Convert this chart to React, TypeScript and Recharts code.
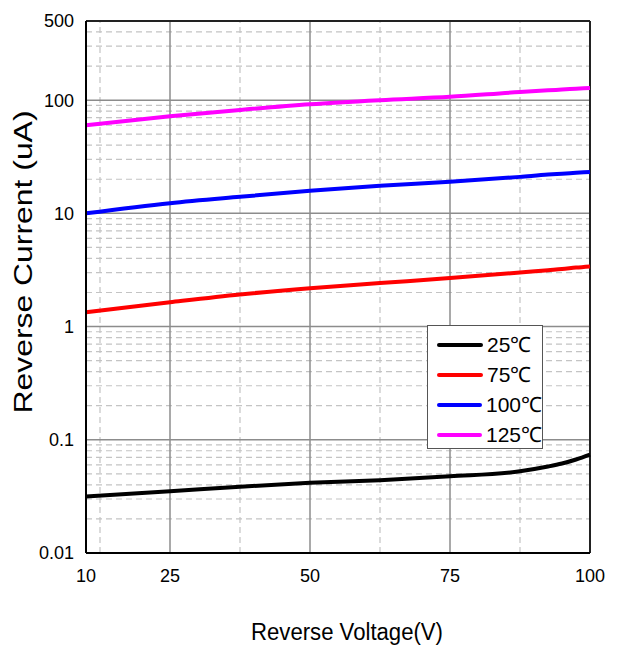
import { Legend, Line, LineChart, ReferenceLine, XAxis, YAxis } from "recharts";

const font = "'Liberation Sans', Arial, sans-serif";

// Reverse voltage (V) sample points
const voltage = [10, 25, 37.5, 50, 62.5, 75, 87.5, 92.5, 95, 97.5, 100];

// Reverse current (uA) per temperature
const current25 = [0.0316, 0.0351, 0.0385, 0.0417, 0.044, 0.0476, 0.0527, 0.058, 0.0617, 0.067, 0.0741];
const current75 = [1.34, 1.64, 1.92, 2.18, 2.42, 2.68, 3.0, 3.15, 3.22, 3.32, 3.4];
const current100 = [10, 12.3, 14.0, 15.8, 17.5, 19, 21, 22, 22.4, 22.8, 23.2];
const current125 = [60, 72, 82, 92, 100, 107, 118, 122, 124, 126, 128];

const xTicks = [10, 25, 50, 75, 100];
const yTicks = [0.01, 0.1, 1, 10, 100, 500];
const xMajorGrid = [25, 50, 75];
const xMinorGrid = [12.5, 37.5, 62.5, 87.5];
const yMajorGrid = [0.1, 1, 10, 100];
const yMinorGrid = [0.01, 0.1, 1, 10]
  .flatMap((d) => [2, 3, 4, 5, 6, 7, 8, 9].map((m) => +(d * m).toPrecision(3)))
  .concat([200, 300, 400]);

const series = [
  { key: "t25", label: "25℃", color: "#000000", values: current25 },
  { key: "t75", label: "75℃", color: "#ff0000", values: current75 },
  { key: "t100", label: "100℃", color: "#0000ff", values: current100 },
  { key: "t125", label: "125℃", color: "#ff00ff", values: current125 },
];

const data = voltage.map((v, i) => {
  const row: Record<string, number> = { v };
  series.forEach((s) => {
    row[s.key] = s.values[i];
  });
  return row;
});

function LegendBox() {
  return (
    <div
      style={{
        width: 116,
        height: 124,
        boxSizing: "border-box",
        border: "1px solid #555",
        background: "#fff",
        paddingTop: 4,
        fontFamily: font,
      }}
    >
      {series.map((s) => (
        <div key={s.key} style={{ display: "flex", alignItems: "center", height: 30 }}>
          <span
            style={{
              display: "inline-block",
              width: 46,
              height: 4,
              marginLeft: 9,
              background: s.color,
              borderRadius: 2,
            }}
          />
          <span style={{ marginLeft: 4, fontSize: 21, color: "#000", lineHeight: "30px" }}>
            {s.label}
          </span>
        </div>
      ))}
    </div>
  );
}

export default function App() {
  return (
    <div style={{ position: "absolute", left: 0, top: 0, background: "#fff" }}>
      <LineChart
        width={624}
        height={648}
        data={data}
        margin={{ top: 21, right: 34, bottom: 65, left: 0 }}
      >
        <XAxis
          dataKey="v"
          type="number"
          domain={[10, 100]}
          ticks={xTicks}
          tickLine={false}
          tickMargin={10}
          height={30}
          stroke="#000"
          strokeWidth={2}
          tick={{ fontSize: 18, fill: "#000", fontFamily: font }}
          label={{
            content: () => (
              <text
                x={347}
                y={640}
                textAnchor="middle"
                fontSize={23}
                fontFamily={font}
                fill="#000"
                textLength={192}
                lengthAdjust="spacingAndGlyphs"
              >
                Reverse Voltage(V)
              </text>
            ),
          }}
        />
        <YAxis
          type="number"
          scale="log"
          domain={[0.01, 500]}
          allowDataOverflow
          ticks={yTicks}
          tickFormatter={(t) => String(t)}
          tickLine={false}
          tickMargin={6}
          width={86}
          stroke="#000"
          strokeWidth={2}
          tick={{ fontSize: 18, fill: "#000", fontFamily: font }}
          label={{
            content: () => (
              <text
                x={32}
                y={262}
                transform="rotate(-90 32 262)"
                textAnchor="middle"
                fontSize={26}
                fontFamily={font}
                fill="#000"
                textLength={303}
                lengthAdjust="spacingAndGlyphs"
              >
                Reverse Current (uA)
              </text>
            ),
          }}
        />
        {yMinorGrid.map((y) => (
          <ReferenceLine key={`ym${y}`} y={y} stroke="#c4c4c4" strokeWidth={1.2} strokeDasharray="6 4" />
        ))}
        {xMinorGrid.map((x) => (
          <ReferenceLine key={`xm${x}`} x={x} stroke="#c4c4c4" strokeWidth={1.2} strokeDasharray="6 4" />
        ))}
        {yMajorGrid.map((y) => (
          <ReferenceLine key={`yM${y}`} y={y} stroke="#8c8c8c" strokeWidth={1.5} />
        ))}
        {xMajorGrid.map((x) => (
          <ReferenceLine key={`xM${x}`} x={x} stroke="#8c8c8c" strokeWidth={1.5} />
        ))}
        <ReferenceLine y={500} stroke="#222" strokeWidth={2} />
        <ReferenceLine x={100} stroke="#222" strokeWidth={2} />
        {series.map((s) => (
          <Line
            key={s.key}
            type="monotone"
            dataKey={s.key}
            name={s.label}
            stroke={s.color}
            strokeWidth={4}
            dot={false}
            isAnimationActive={false}
          />
        ))}
        <Legend
          layout="vertical"
          align="center"
          verticalAlign="middle"
          content={() => <LegendBox />}
          wrapperStyle={{ position: "absolute", left: 427, top: 325, width: 116, height: 124 }}
        />
      </LineChart>
    </div>
  );
}
